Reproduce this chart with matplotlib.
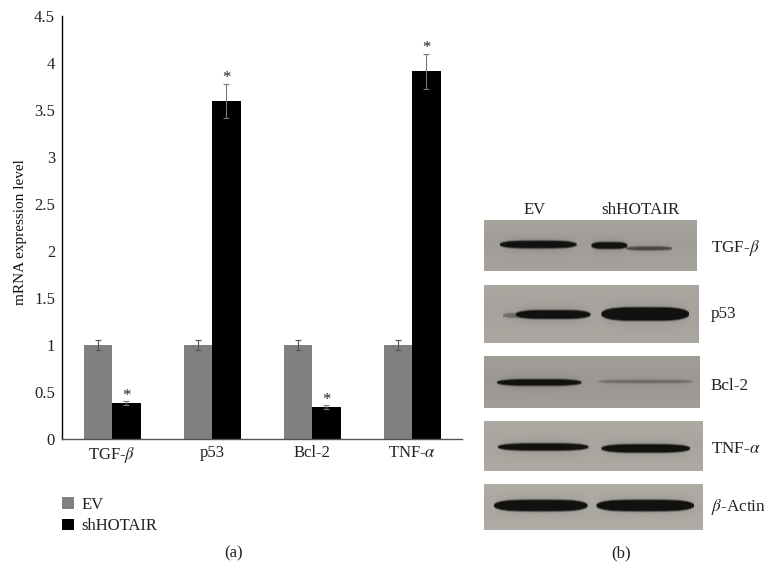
import numpy as np
import matplotlib
matplotlib.use("Agg")
import matplotlib.pyplot as plt

plt.rcParams["font.family"] = ["Liberation Serif", "DejaVu Serif"]
plt.rcParams["mathtext.fontset"] = "stix"

# Panel (a) data
genes = ["TGF-$\\mathit{\\beta}$", "p53", "Bcl-2", "TNF-$\\mathit{\\alpha}$"]
ev = [1.0, 1.0, 1.0, 1.0]
ev_err = [0.05, 0.05, 0.05, 0.05]
sh = [0.38, 3.6, 0.34, 3.91]
sh_err = [0.02, 0.18, 0.02, 0.19]
y_ticks = [0, 0.5, 1, 1.5, 2, 2.5, 3, 3.5, 4, 4.5]
y_tick_labels = ["0", "0.5", "1", "1.5", "2", "2.5", "3", "3.5", "4", "4.5"]

# Panel (b) blots, in pixels of the picture
blot_names = ["TGF-$\\mathit{\\beta}$", "p53", "Bcl-2", "TNF-$\\mathit{\\alpha}$", "$\\mathit{\\beta}$-Actin"]
blot_boxes = [(484, 697, 220, 271), (484, 699, 285, 343), (484, 700, 356, 408),
              (484, 703, 421, 471), (484, 703, 484, 530)]
blot_back = [0.63, 0.65, 0.61, 0.66, 0.67]
# x start, x end, y centre, half height, darkness
blot_bands = [
    [(499, 577, 244.5, 4.0, 1.0), (591, 628, 245.5, 3.6, 1.0), (626, 673, 248.5, 2.0, 0.6)],
    [(502, 540, 315.5, 2.6, 0.35), (515, 591, 314.5, 4.6, 1.0), (601, 690, 314.0, 7.0, 1.0)],
    [(496, 582, 382.5, 3.4, 1.0), (598, 694, 381.5, 1.8, 0.3)],
    [(497, 589, 447.0, 3.8, 1.0), (601, 691, 448.5, 4.4, 1.0)],
    [(493, 588, 505.5, 6.0, 1.0), (596, 695, 505.5, 6.0, 1.0)],
]
film_tint = [1.0, 0.975, 0.94]

W, H = 773, 585
fig = plt.figure(figsize=(W / 100, H / 100), dpi=100)

# bar chart
ax = fig.add_axes([62 / W, 1 - 439 / H, 400 / W, 423 / H])
x = np.arange(len(genes))
width = 0.285
ax.bar(x - width / 2, ev, width, color="#808080", label="EV")
ax.bar(x + width / 2, sh, width, color="#000000", label="shHOTAIR")
ax.errorbar(x - width / 2, ev, yerr=ev_err, fmt="none", ecolor="#555555", elinewidth=0.8, capsize=2.5, capthick=0.8)
ax.errorbar(x + width / 2, sh, yerr=sh_err, fmt="none", ecolor="#777777", elinewidth=0.8, capsize=2.5, capthick=0.8)
for xi, yi, ei in zip(x, sh, sh_err):
    ax.annotate("*", (xi + width / 2, yi + ei), xytext=(0, -2), textcoords="offset points",
                ha="center", va="bottom", fontsize=12, color="#222222")
ax.set_xlim(-0.5, 3.5)
ax.set_ylim(0, 4.5)
ax.set_xticks(x)
ax.set_xticklabels(genes)
ax.set_yticks(y_ticks)
ax.set_yticklabels(y_tick_labels)
ax.tick_params(length=0, labelsize=12, pad=5, colors="#222222")
ax.tick_params(axis="x", pad=4)
ax.set_ylabel("mRNA expression level", fontsize=11, color="#111111")
ax.yaxis.set_label_coords(-35 / 400, 0.49)
ax.spines["top"].set_visible(False)
ax.spines["right"].set_visible(False)
ax.spines["left"].set_linewidth(1.0)
ax.spines["bottom"].set_linewidth(1.0)
ax.spines["bottom"].set_color("#555555")
ax.legend(loc="upper left", bbox_to_anchor=(62 / W, 1 - 497 / H), bbox_transform=fig.transFigure,
          frameon=False, fontsize=12, handlelength=0.7, handleheight=0.7, handletextpad=0.45,
          labelspacing=0.31, borderpad=0, borderaxespad=0, labelcolor="#222222")

# overlay in picture pixels for the blots and labels
ov = fig.add_axes([0, 0, 1, 1])
ov.axis("off")
ov.patch.set_alpha(0)

for box, back, bands in zip(blot_boxes, blot_back, blot_bands):
    x0, x1, y0, y1 = box
    xx, yy = np.meshgrid(np.arange(x0, x1 + 1), np.arange(y0, y1 + 1))
    img = np.full(xx.shape, back, dtype=float)
    # film is a little lighter at the panel edges
    img += 0.02 * np.abs(yy - (y0 + y1) / 2) / ((y1 - y0) / 2)
    for b0, b1, yc, hh, dark in bands:
        c = (b0 + b1) / 2
        half = (b1 - b0) / 2
        u = np.clip(np.abs(xx - c) / half, 0, 1)
        local = hh * (1 - u ** 4) ** 0.5
        core = np.clip((local - np.abs(yy - yc)) / 1.5 + 0.5, 0, 1) * (u < 1)
        halo = np.exp(-(np.abs(yy - yc) / (hh + 3.0)) ** 2) * (1 - u ** 3)
        img = img * (1 - 0.12 * dark * halo)
        img = img * (1 - core * dark) + 0.07 * core * dark
    rgb = np.dstack([img * t for t in film_tint])
    ov.imshow(rgb, extent=(x0, x1, y1, y0), aspect="auto", interpolation="bilinear", zorder=1)
ov.set_xlim(0, W)
ov.set_ylim(H, 0)

label_y = [248, 314, 386, 449, 507]
for name, ly in zip(blot_names, label_y):
    ov.text(711, ly, name, fontsize=12.3, ha="left", va="center", color="#222222")
ov.text(535, 210, "EV", fontsize=12, ha="center", va="center", color="#222222")
ov.text(640, 210, "shHOTAIR", fontsize=12.3, ha="center", va="center", color="#222222")
ov.text(234, 553, "(a)", fontsize=12, ha="center", va="center", color="#222222")
ov.text(621, 553, "(b)", fontsize=12, ha="center", va="center", color="#222222")

fig.savefig("out.png", dpi=100)
